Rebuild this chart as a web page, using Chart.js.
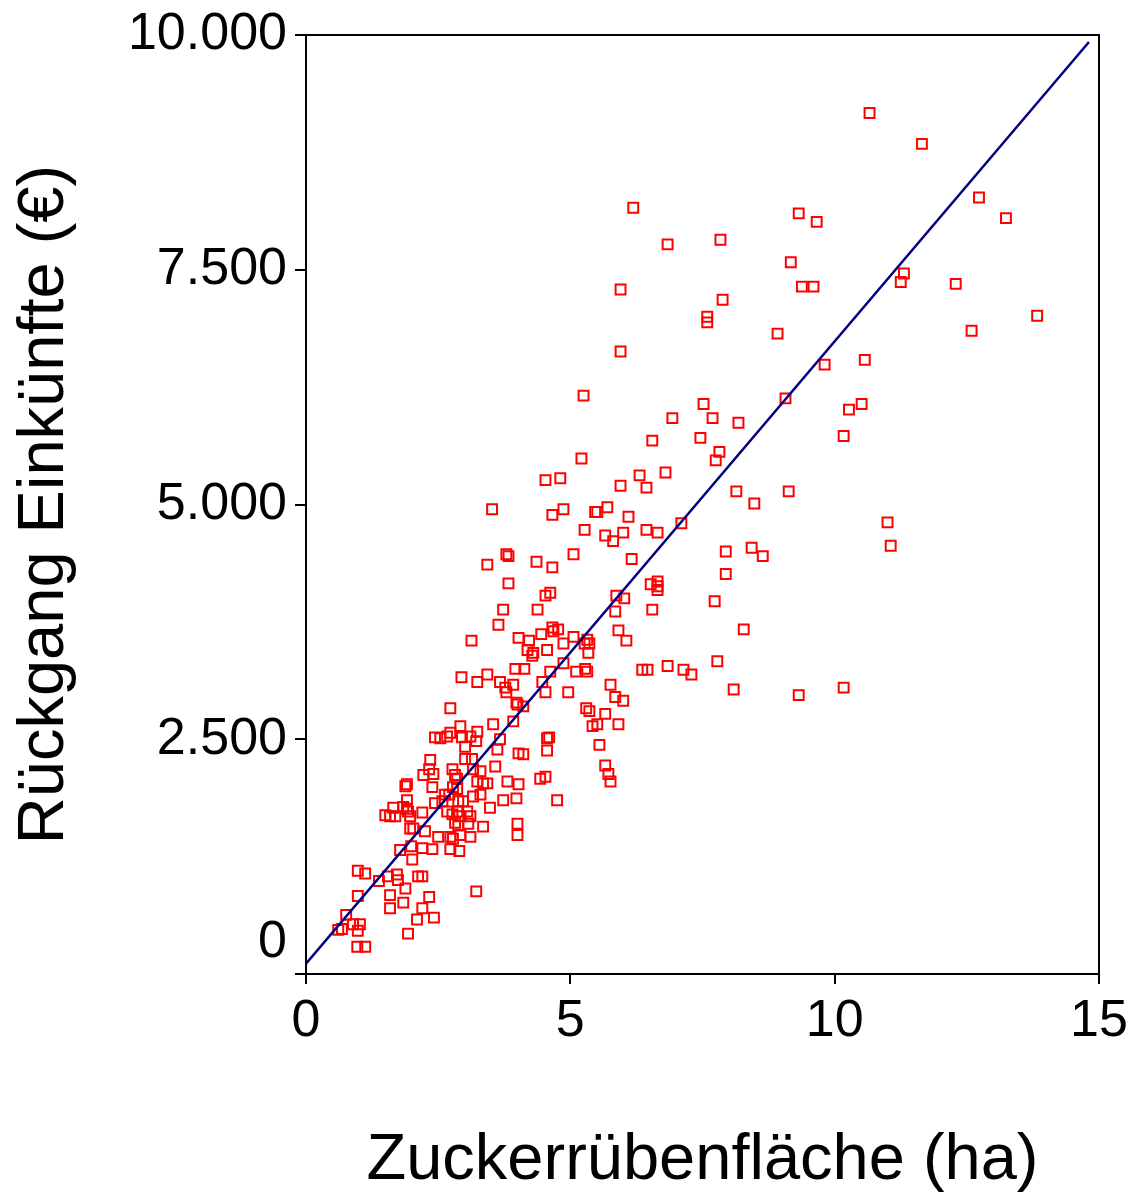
<!DOCTYPE html>
<html>
<head>
<meta charset="utf-8">
<script src="https://cdn.jsdelivr.net/npm/chart.js@4/dist/chart.umd.min.js"></script>
<style>
  body { margin: 0; background: #fff; }
</style>
</head>
<body>
<canvas id="chart" width="1129" height="1197"></canvas>
<script>
// sugar beet area per farm (ha)
const areaHa = [
  6.19, 6.84, 7.84, 9.32, 9.66, 5.95, 9.17, 9.38, 9.60, 7.88, 7.59, 7.59, 8.92, 5.95,
  10.66, 11.65, 12.73, 13.24, 11.31, 11.25, 12.29, 13.83, 12.59, 9.81, 10.57, 5.25,
  7.52, 7.69, 8.18, 9.07, 10.27, 10.51, 10.17, 7.46, 7.82, 7.75, 8.14, 8.48, 9.13,
  11.00, 11.06, 7.94, 8.43, 8.64, 7.94, 7.73, 8.28, 7.78, 8.09, 9.32, 10.17,
  6.93, 6.55, 5.21, 4.81, 4.53, 6.31, 6.80, 5.95, 6.44, 4.87, 5.47, 5.51, 5.70, 6.10,
  5.27, 5.66, 5.81, 6.00, 6.44, 6.65, 7.10, 5.06, 6.16,
  3.52, 4.66, 3.79, 3.83, 3.43, 4.36, 4.66, 3.83, 4.53, 4.62, 3.73, 4.38, 3.64,
  3.13, 4.02, 4.22, 4.45, 4.66, 4.68, 4.77, 5.06, 4.87, 5.32, 4.19, 4.30, 4.28, 4.56, 5.34,
  3.96, 4.13, 4.62, 4.87, 5.11, 5.28, 5.32, 2.94, 3.24, 3.43, 3.67, 3.77, 3.79, 3.92,
  4.47, 4.53, 4.96, 3.98, 5.30, 2.73,
  6.52, 6.65, 6.65, 6.65, 5.87, 6.02, 5.85, 6.55, 5.91, 6.06, 5.36, 5.27, 6.36, 6.46,
  6.84, 7.14, 7.29, 5.76, 5.85, 6.00, 5.36, 5.66, 5.51, 5.42, 5.91, 4.60, 4.56, 4.56,
  5.55, 5.66, 5.72, 5.76, 4.53, 4.43, 4.75,
  4.00, 4.11, 3.54, 3.92, 2.44, 2.54, 2.73, 2.67, 2.92, 3.24, 2.95, 3.11, 3.22, 3.67,
  3.01, 3.62, 4.02, 4.11, 3.01, 3.14, 2.35, 2.33, 2.77, 2.82, 2.86, 3.16, 3.30, 3.58,
  2.22, 2.41, 2.39, 1.88, 1.91, 2.78, 2.86, 3.24, 3.35, 3.43, 3.81, 4.02, 2.44, 2.63,
  2.71, 2.88, 2.97, 3.16, 3.30, 3.73, 3.98, 1.91, 1.65, 1.84, 1.91, 1.50, 1.59, 1.69,
  1.97, 1.93, 2.20, 2.58, 2.67, 2.77, 2.88, 2.90, 3.05, 3.11, 3.07, 3.48, 2.82, 2.88,
  3.35, 4.00, 4.00, 1.97, 2.03, 2.25, 2.73, 2.78, 2.92, 3.11, 2.39, 2.50, 2.73, 2.90,
  1.78, 1.99, 2.20, 2.01, 0.98, 1.12, 1.38, 1.55, 1.72, 1.74, 2.12, 2.20, 1.88, 1.59,
  1.84, 2.33, 1.59, 2.20, 0.98, 0.76, 0.89, 1.02, 0.98, 0.61, 0.68, 2.10, 2.42, 1.93,
  0.97, 1.12, 3.22
]

// drop in income per farm (EUR), same order as areaHa
const lossEur = [
  8160, 7770, 7820, 8100, 8010, 7290, 7580, 7320, 7320, 7180, 7000, 6940, 6820, 6630,
  9170, 8840, 8270, 8050, 7460, 7370, 7350, 7010, 6850, 6490, 6540, 6160,
  6070, 5920, 5870, 6130, 6010, 6070, 5730, 5710, 5560, 5470, 5140, 5010, 5140,
  4810, 4560, 4500, 4540, 4450, 4260, 3970, 3670, 3330, 3030, 2970, 3050,
  5920, 5680, 5490, 5280, 5260, 5310, 5340, 5200, 5180, 4950, 4920, 4920, 4970, 4870,
  4730, 4670, 4610, 4700, 4730, 4700, 4800, 4470, 4420,
  4950, 4890, 4470, 4450, 4360, 4390, 4330, 4160, 4030, 4060, 3880, 3880, 3720,
  3550, 3580, 3550, 3620, 3690, 3650, 3670, 3590, 3520, 3560, 3450, 3420, 3390, 3450, 3420,
  3250, 3250, 3220, 3310, 3220, 3250, 3220, 3160, 3110, 3190, 3110, 3050, 3000, 3080,
  3110, 3000, 3000, 2890, 2830, 2830,
  4150, 4180, 4130, 4090, 4030, 4000, 3860, 3880, 3660, 3550, 3520, 3520, 3240, 3240,
  3280, 3240, 3190, 3080, 2950, 2910, 2800, 2770, 2660, 2640, 2660, 2520, 2510, 2380,
  2440, 2220, 2130, 2050, 2100, 2080, 1850,
  2870, 2850, 2660, 2690, 2520, 2510, 2570, 2530, 2640, 2580, 2520, 2530, 2480, 2500,
  2420, 2390, 2350, 2340, 2290, 2290, 2280, 2180, 2180, 2120, 2080, 2180, 2160, 2210,
  2120, 2130, 1990, 2000, 2020, 1990, 1970, 2050, 2030, 2030, 2050, 2020, 1820, 1910,
  1910, 1840, 1840, 1890, 1910, 1850, 1870, 1850, 1770, 1780, 1760, 1690, 1680, 1680,
  1680, 1730, 1720, 1840, 1730, 1700, 1730, 1680, 1730, 1680, 1600, 1770, 1610, 1580,
  1570, 1600, 1480, 1550, 1550, 1520, 1460, 1440, 1480, 1460, 1330, 1460, 1330, 1310,
  1320, 1360, 1340, 1220, 1100, 1070, 990, 1040, 1060, 1000, 1040, 1040, 910, 840,
  760, 820, 700, 700, 830, 630, 530, 530, 460, 470, 480, 580, 600, 430,
  290, 290, 880
]

// fitted line, end points
const fitX = [0, 14.81]
const fitY = [110, 9925]

const xTicks = [0, 5, 10, 15]
const yTicks = [0, 2500, 5000, 7500, 10000]

const font = "'Liberation Sans', Arial, sans-serif"

// german thousands separator
const fmt = (v) => String(v).replace(/\B(?=(\d{3})+(?!\d))/g, ".")

// box around the plot area
const framePlugin = {
  id: "frame",
  afterDatasetsDraw(chart) {
    const { ctx, chartArea: a } = chart
    ctx.save()
    ctx.strokeStyle = "#000"
    ctx.lineWidth = 2
    ctx.strokeRect(a.left, a.top, a.right - a.left, a.bottom - a.top)
    ctx.restore()
  },
}

const ctx = document.getElementById("chart").getContext("2d")

new Chart(ctx, {
  type: "scatter",
  data: {
    datasets: [
      {
        type: "line",
        data: fitX.map((x, i) => ({ x, y: fitY[i] })),
        borderColor: "#000080",
        borderWidth: 2.5,
        pointRadius: 0,
        fill: false,
      },
      {
        data: areaHa.map((x, i) => ({ x, y: lossEur[i] })),
        pointStyle: "rect",
        pointRadius: 7,
        borderWidth: 2,
        borderColor: "#ff0000",
        backgroundColor: "rgba(0,0,0,0)",
      },
    ],
  },
  options: {
    responsive: false,
    animation: false,
    devicePixelRatio: 1,
    layout: { padding: { top: 35, right: 30, left: 0, bottom: 0 } },
    plugins: {
      legend: { display: false },
      tooltip: { enabled: false },
    },
    scales: {
      x: {
        type: "linear",
        min: 0,
        max: 15,
        afterBuildTicks: (s) => { s.ticks = xTicks.map((v) => ({ value: v })) },
        afterFit: (s) => {
          s.height = 223
          s.paddingLeft = 0
          s.paddingRight = 0
        },
        grid: { drawOnChartArea: false, drawTicks: true, tickLength: 10, color: "#000", lineWidth: 2 },
        border: { color: "#000", width: 2 },
        ticks: { color: "#000", padding: 6, font: { family: font, size: 52 }, maxRotation: 0 },
        title: {
          display: true,
          text: "Zuckerrübenfläche (ha)",
          color: "#000",
          font: { family: font, size: 65, lineHeight: 1.12 },
          padding: { top: 0, bottom: 0 },
        },
      },
      y: {
        type: "linear",
        min: 0,
        max: 10000,
        afterBuildTicks: (s) => { s.ticks = yTicks.map((v) => ({ value: v })) },
        afterFit: (s) => {
          s.width = 306
          s.paddingTop = 0
          s.paddingBottom = 0
        },
        grid: { drawOnChartArea: false, drawTicks: true, tickLength: 11, color: "#000", lineWidth: 2 },
        border: { color: "#000", width: 2 },
        ticks: {
          color: "#000",
          padding: 8,
          font: { family: font, size: 52 },
          // the zero label sits a bit above its tick in the original
          callback: (v) => (v === 0 ? ["0", ""] : fmt(v)),
        },
        title: {
          display: true,
          text: "Rückgang Einkünfte (€)",
          color: "#000",
          font: { family: font, size: 65, lineHeight: 1.12 },
          padding: { top: 9, bottom: 0 },
        },
      },
    },
  },
  plugins: [framePlugin],
})
</script>
</body>
</html>
